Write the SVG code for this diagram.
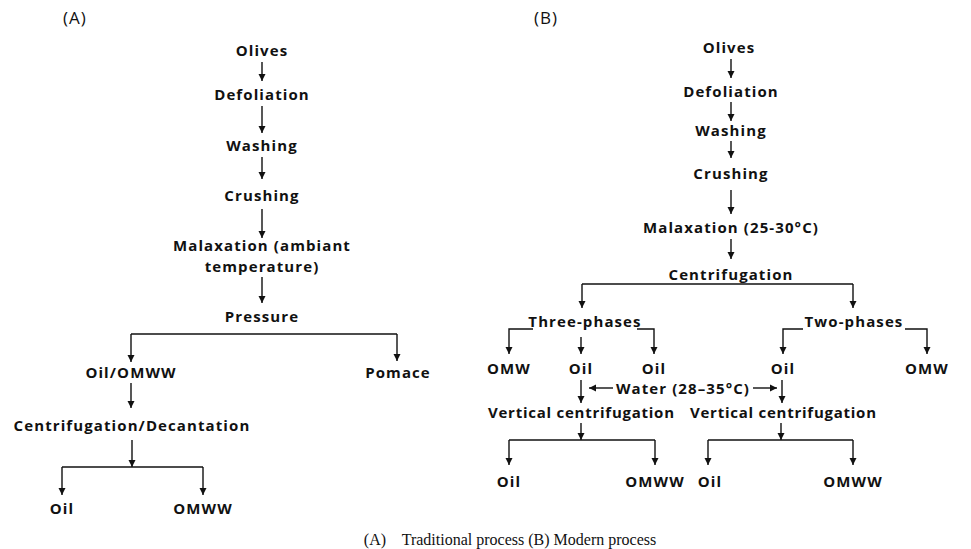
<svg xmlns="http://www.w3.org/2000/svg" width="971" height="549" viewBox="0 0 971 549">
<defs>
<marker id="ah" viewBox="0 0 10 10" refX="10" refY="5" markerWidth="7" markerHeight="8" markerUnits="userSpaceOnUse" orient="auto">
<path d="M0,0 L10,5 L0,10 z" fill="#111"/>
</marker>
<style>
.t{font-family:"Open Sans","DejaVu Sans",sans-serif;font-weight:bold;font-size:15px;letter-spacing:1.1px;fill:#111;text-anchor:middle}
.n{letter-spacing:0px}
.p{font-family:"Open Sans","DejaVu Sans",sans-serif;font-size:17px;letter-spacing:1px;fill:#111}
.c{font-family:"Liberation Serif","Times New Roman",serif;font-size:16px;fill:#111;text-anchor:middle}
.l{fill:none;stroke:#111;stroke-width:1.4}
.a{fill:none;stroke:#111;stroke-width:1.4;marker-end:url(#ah)}
</style>
</defs>
<rect width="971" height="549" fill="#fff"/>
<text class="p" x="63" y="24">(A)</text>
<text class="p" x="534" y="24">(B)</text>
<g id="A-olives"><text class="t" x="262" y="56">Olives</text></g>
<g id="A-defoliation"><text class="t" x="262" y="100">Defoliation</text></g>
<g id="A-washing"><text class="t" x="262" y="151">Washing</text></g>
<g id="A-crushing"><text class="t" x="262" y="201">Crushing</text></g>
<g id="A-malaxation"><text class="t" x="262" y="251">Malaxation (ambiant</text><text class="t" x="262" y="272">temperature)</text></g>
<g id="A-pressure"><text class="t" x="262" y="322">Pressure</text></g>
<g id="A-oilomww"><text class="t" x="131" y="378">Oil/OMWW</text></g>
<g id="A-pomace"><text class="t" x="398" y="378">Pomace</text></g>
<g id="A-centdec"><text class="t" x="132" y="431">Centrifugation/Decantation</text></g>
<g id="A-oil"><text class="t" x="62" y="514">Oil</text></g>
<g id="A-omww"><text class="t" x="203" y="514">OMWW</text></g>

<g id="B-olives"><text class="t" x="729" y="53">Olives</text></g>
<g id="B-defoliation"><text class="t" x="731" y="97">Defoliation</text></g>
<g id="B-washing"><text class="t" x="731" y="136">Washing</text></g>
<g id="B-crushing"><text class="t" x="731" y="179">Crushing</text></g>
<g id="B-malaxation"><text class="t" x="731" y="233">Malaxation (25-30°C)</text></g>
<g id="B-centrifugation"><text class="t" x="731" y="280">Centrifugation</text></g>
<g id="B-three"><text class="t" x="585" y="327">Three-phases</text></g>
<g id="B-two"><text class="t" x="854" y="327">Two-phases</text></g>
<g id="B-omw1"><text class="t" x="509" y="374">OMW</text></g>
<g id="B-oil1"><text class="t" x="581" y="374">Oil</text></g>
<g id="B-oil2"><text class="t" x="654" y="374">Oil</text></g>
<g id="B-oil3"><text class="t" x="783" y="374">Oil</text></g>
<g id="B-omw2"><text class="t" x="927" y="374">OMW</text></g>
<g id="B-water"><text class="t" x="683" y="394">Water (28–35°C)</text></g>
<g id="B-vc1"><text class="t n" x="581" y="418" textLength="186" lengthAdjust="spacing">Vertical centrifugation</text></g>
<g id="B-vc2"><text class="t n" x="783" y="418" textLength="186" lengthAdjust="spacing">Vertical centrifugation</text></g>
<g id="B-oil4"><text class="t" x="509" y="487">Oil</text></g>
<g id="B-omww1"><text class="t" x="655" y="487">OMWW</text></g>
<g id="B-oil5"><text class="t" x="710" y="487">Oil</text></g>
<g id="B-omww2"><text class="t" x="853" y="487">OMWW</text></g>

<g id="connectors">
<line class="a" x1="262" y1="62" x2="262" y2="81"/>
<line class="a" x1="262" y1="106" x2="262" y2="133"/>
<line class="a" x1="262" y1="157" x2="262" y2="179"/>
<line class="a" x1="262" y1="209" x2="262" y2="238"/>
<line class="a" x1="262" y1="277" x2="262" y2="303"/>
<polyline class="l" points="131,334 397,334"/>
<line class="a" x1="131" y1="334" x2="131" y2="362"/>
<line class="a" x1="397" y1="334" x2="397" y2="361"/>
<line class="a" x1="131" y1="383" x2="131" y2="408"/>
<line class="a" x1="132" y1="440" x2="132" y2="467"/>
<polyline class="l" points="62,467 203,467"/>
<line class="a" x1="62" y1="467" x2="62" y2="495"/>
<line class="a" x1="203" y1="467" x2="203" y2="495"/>

<line class="a" x1="731" y1="59" x2="731" y2="78"/>
<line class="a" x1="731" y1="102" x2="731" y2="121"/>
<line class="a" x1="731" y1="141" x2="731" y2="158"/>
<line class="a" x1="731" y1="190" x2="731" y2="214"/>
<line class="a" x1="731" y1="239" x2="731" y2="259"/>
<polyline class="l" points="582,284 853,284"/>
<line class="a" x1="582" y1="284" x2="582" y2="308"/>
<line class="a" x1="853" y1="284" x2="853" y2="308"/>
<polyline class="a" points="533,329 509,329 509,354"/>
<polyline class="a" points="637,329 654,329 654,354"/>
<line class="a" x1="581" y1="337" x2="581" y2="354"/>
<polyline class="a" points="803,329 783,329 783,354"/>
<polyline class="a" points="905,329 927,329 927,354"/>
<line class="a" x1="581" y1="380" x2="581" y2="403"/>
<line class="a" x1="782" y1="380" x2="782" y2="403"/>
<line class="a" x1="613" y1="388" x2="589" y2="388"/>
<line class="a" x1="753" y1="388" x2="777" y2="388"/>
<line class="a" x1="581" y1="423" x2="581" y2="440"/>
<polyline class="l" points="509,440 655,440"/>
<line class="a" x1="509" y1="440" x2="509" y2="465"/>
<line class="a" x1="655" y1="440" x2="655" y2="465"/>
<line class="a" x1="781" y1="423" x2="781" y2="440"/>
<polyline class="l" points="708,440 853,440"/>
<line class="a" x1="708" y1="440" x2="708" y2="465"/>
<line class="a" x1="853" y1="440" x2="853" y2="465"/>
</g>
<text class="c" x="510" y="545" xml:space="preserve">(A)    Traditional process (B) Modern process</text>
</svg>
